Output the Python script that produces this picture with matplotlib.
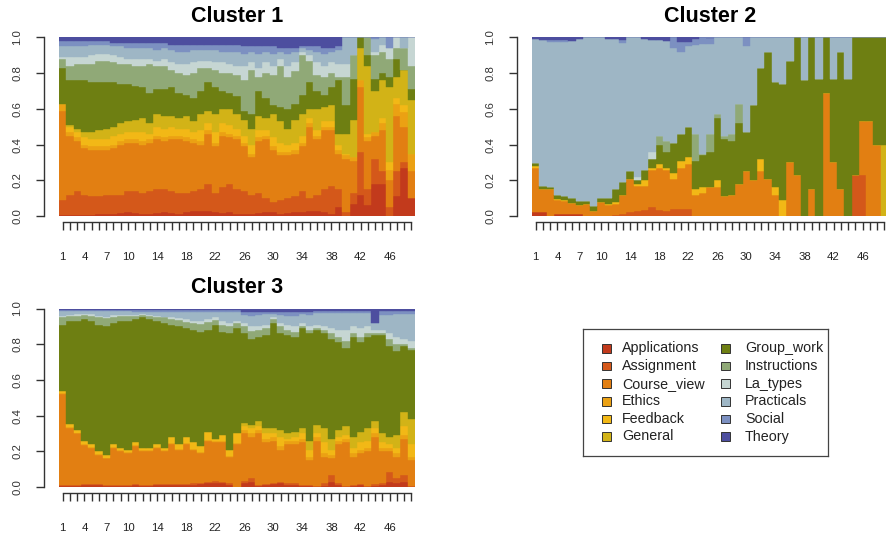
import numpy as np
import matplotlib
matplotlib.use("Agg")
import matplotlib.pyplot as plt
from matplotlib.patches import Rectangle

plt.rcParams['font.family'] = 'Liberation Sans'

states = ['Applications', 'Assignment', 'Course_view', 'Ethics', 'Feedback', 'General',
          'Group_work', 'Instructions', 'La_types', 'Practicals', 'Social', 'Theory']
colors = ['#C23A1C', '#D4581A', '#E27F12', '#EBA113', '#F2B816', '#D2B317',
          '#6E7F12', '#90A977', '#C6D6D3', '#9EB6C5', '#7C90C1', '#4D4E9F']

positions = np.arange(1, 50)
tick_labels = [1, 4, 7, 10, 14, 18, 22, 26, 30, 34, 38, 42, 46]

# each list is the upper edge of that state's band (cumulative share);
# Theory always runs up to 1.0
c1_applications = [0.005, 0.005, 0.005, 0.005, 0.005, 0.01, 0.01, 0.01, 0.015, 0.02,
                   0.015, 0.01, 0.01, 0.015, 0.02, 0.015, 0.01, 0.025, 0.03, 0.03,
                   0.03, 0.02, 0.015, 0.02, 0.01, 0.01, 0.01, 0.015, 0.02, 0.025,
                   0.01, 0.015, 0.02, 0.025, 0.03, 0.03, 0.02, 0.01, 0.05,
                   0.0, 0.07, 0.12, 0.06, 0.18, 0.18, 0.0, 0.11, 0.27, 0.10]
c1_assignment = [0.09, 0.12, 0.14, 0.12, 0.11, 0.11, 0.12, 0.12, 0.12, 0.14,
                 0.14, 0.13, 0.14, 0.15, 0.15, 0.14, 0.13, 0.13, 0.14, 0.15,
                 0.18, 0.13, 0.16, 0.18, 0.15, 0.14, 0.12, 0.13, 0.10, 0.08,
                 0.09, 0.10, 0.11, 0.14, 0.10, 0.12, 0.15, 0.17, 0.15,
                 0.02, 0.13, 0.36, 0.15, 0.32, 0.25, 0.05, 0.25, 0.30, 0.10]
c1_course_view = [0.59, 0.45, 0.42, 0.38, 0.37, 0.37, 0.37, 0.38, 0.40, 0.41,
                  0.41, 0.40, 0.41, 0.43, 0.42, 0.43, 0.43, 0.42, 0.41, 0.40,
                  0.46, 0.39, 0.45, 0.44, 0.43, 0.39, 0.33, 0.42, 0.43, 0.37,
                  0.34, 0.34, 0.35, 0.39, 0.50, 0.43, 0.48, 0.48, 0.35,
                  0.32, 0.31, 0.72, 0.42, 0.45, 0.48, 0.20, 0.56, 0.50, 0.25]
c1_ethics = [0.63, 0.47, 0.44, 0.40, 0.39, 0.39, 0.39, 0.40, 0.42, 0.43,
             0.43, 0.42, 0.43, 0.45, 0.44, 0.45, 0.45, 0.44, 0.43, 0.42,
             0.48, 0.41, 0.47, 0.46, 0.45, 0.41, 0.35, 0.44, 0.45, 0.39,
             0.36, 0.36, 0.37, 0.41, 0.52, 0.45, 0.50, 0.50, 0.37,
             0.34, 0.33, 0.76, 0.44, 0.47, 0.52, 0.26, 0.63, 0.58, 0.35]
c1_feedback = [0.63, 0.50, 0.47, 0.44, 0.43, 0.43, 0.43, 0.45, 0.46, 0.47,
               0.47, 0.47, 0.46, 0.50, 0.49, 0.50, 0.49, 0.49, 0.47, 0.48,
               0.52, 0.47, 0.52, 0.51, 0.49, 0.45, 0.40, 0.48, 0.48, 0.44,
               0.41, 0.40, 0.41, 0.45, 0.55, 0.48, 0.53, 0.53, 0.40,
               0.35, 0.33, 0.76, 0.46, 0.47, 0.55, 0.30, 0.66, 0.62, 0.35]
c1_general = [0.63, 0.51, 0.49, 0.47, 0.47, 0.48, 0.49, 0.50, 0.52, 0.53,
              0.54, 0.55, 0.52, 0.57, 0.56, 0.56, 0.55, 0.56, 0.53, 0.57,
              0.59, 0.57, 0.60, 0.60, 0.57, 0.54, 0.49, 0.56, 0.55, 0.57,
              0.53, 0.49, 0.54, 0.57, 0.60, 0.60, 0.61, 0.62, 0.46,
              0.46, 0.54, 0.94, 0.84, 0.70, 0.76, 0.72, 0.78, 0.82, 0.65]
c1_group_work = [0.83, 0.76, 0.76, 0.76, 0.75, 0.75, 0.75, 0.75, 0.74, 0.74,
                 0.73, 0.72, 0.69, 0.71, 0.71, 0.72, 0.69, 0.68, 0.66, 0.70,
                 0.75, 0.72, 0.70, 0.69, 0.67, 0.59, 0.57, 0.70, 0.66, 0.62,
                 0.61, 0.60, 0.63, 0.68, 0.75, 0.70, 0.68, 0.72, 0.76,
                 0.62, 0.77, 1.00, 0.90, 0.77, 0.80, 0.78, 0.88, 0.82, 0.71]
c1_instructions = [0.88, 0.84, 0.85, 0.85, 0.85, 0.87, 0.87, 0.86, 0.85, 0.85,
                   0.84, 0.84, 0.85, 0.84, 0.84, 0.82, 0.80, 0.79, 0.80, 0.83,
                   0.83, 0.82, 0.80, 0.80, 0.79, 0.76, 0.82, 0.78, 0.80, 0.79,
                   0.84, 0.78, 0.81, 0.90, 0.87, 0.79, 0.78, 0.80, 0.78,
                   0.78, 0.90, 1.00, 1.00, 0.90, 0.92, 0.88, 0.94, 0.94, 0.84]
c1_la_types = [0.89, 0.89, 0.89, 0.89, 0.90, 0.91, 0.91, 0.90, 0.89, 0.88,
               0.88, 0.88, 0.88, 0.87, 0.88, 0.86, 0.85, 0.85, 0.86, 0.87,
               0.87, 0.86, 0.86, 0.85, 0.84, 0.84, 0.86, 0.83, 0.86, 0.84,
               0.88, 0.84, 0.86, 0.92, 0.90, 0.86, 0.84, 0.86, 0.85,
               0.85, 0.90, 1.00, 1.00, 0.92, 0.96, 0.94, 1.00, 0.94, 1.00]
c1_practicals = [0.95, 0.95, 0.95, 0.95, 0.96, 0.96, 0.96, 0.95, 0.95, 0.94,
                 0.94, 0.94, 0.94, 0.93, 0.94, 0.93, 0.92, 0.92, 0.93, 0.93,
                 0.93, 0.93, 0.92, 0.92, 0.92, 0.91, 0.92, 0.91, 0.92, 0.91,
                 0.92, 0.91, 0.92, 0.94, 0.93, 0.92, 0.91, 0.92, 0.93,
                 1.00, 1.00, 1.00, 1.00, 0.99, 1.00, 0.94, 1.00, 1.00, 1.00]
c1_social = [0.98, 0.98, 0.98, 0.98, 0.98, 0.98, 0.98, 0.97, 0.97, 0.97,
             0.97, 0.97, 0.97, 0.97, 0.97, 0.96, 0.96, 0.96, 0.96, 0.96,
             0.96, 0.96, 0.96, 0.96, 0.96, 0.95, 0.95, 0.95, 0.95, 0.95,
             0.94, 0.94, 0.94, 0.95, 0.95, 0.95, 0.94, 0.94, 0.95,
             1.00, 1.00, 1.00, 1.00, 1.00, 1.00, 1.00, 1.00, 1.00, 1.00]

c2_applications = [0.025, 0.025, 0.0, 0.01, 0.01, 0.01, 0.01, 0.0, 0.0, 0.0,
                   0.0, 0.0, 0.0, 0.0, 0.0, 0.0, 0.0, 0.0, 0.0, 0.0,
                   0.0, 0.0, 0.0, 0.0, 0.0, 0.0, 0.0, 0.0, 0.0, 0.0,
                   0.0, 0.0, 0.0, 0.0, 0.0, 0.0, 0.0, 0.0, 0.0, 0.0,
                   0.0, 0.0, 0.0, 0.0, 0.0, 0.0, 0.0, 0.0, 0.0]
c2_assignment = [0.025, 0.025, 0.0, 0.01, 0.01, 0.01, 0.01, 0.0, 0.0, 0.0,
                 0.0, 0.005, 0.01, 0.02, 0.03, 0.035, 0.05, 0.035, 0.03, 0.04,
                 0.04, 0.04, 0.0, 0.0, 0.0, 0.0, 0.0, 0.0, 0.0, 0.0,
                 0.0, 0.0, 0.0, 0.0, 0.0, 0.0, 0.0, 0.0, 0.0, 0.0,
                 0.0, 0.0, 0.0, 0.0, 0.23, 0.23, 0.0, 0.0, 0.0]
c2_course_view = [0.27, 0.15, 0.15, 0.09, 0.085, 0.075, 0.06, 0.065, 0.03, 0.08,
                  0.06, 0.07, 0.12, 0.21, 0.17, 0.17, 0.26, 0.27, 0.26, 0.21,
                  0.27, 0.29, 0.12, 0.13, 0.16, 0.16, 0.11, 0.12, 0.18, 0.25,
                  0.20, 0.25, 0.21, 0.12, 0.0, 0.30, 0.23, 0.0, 0.15, 0.0,
                  0.69, 0.30, 0.15, 0.0, 0.23, 0.53, 0.53, 0.40, 0.0]
c2_ethics = [0.27, 0.15, 0.15, 0.09, 0.085, 0.075, 0.06, 0.065, 0.03, 0.08,
             0.06, 0.07, 0.12, 0.21, 0.17, 0.17, 0.26, 0.27, 0.26, 0.21,
             0.27, 0.29, 0.12, 0.13, 0.16, 0.16, 0.11, 0.12, 0.18, 0.25,
             0.20, 0.25, 0.21, 0.12, 0.0, 0.30, 0.23, 0.0, 0.15, 0.0,
             0.69, 0.30, 0.15, 0.0, 0.23, 0.53, 0.53, 0.40, 0.0]
c2_feedback = [0.28, 0.15, 0.15, 0.095, 0.09, 0.075, 0.06, 0.065, 0.03, 0.08,
               0.07, 0.08, 0.12, 0.21, 0.18, 0.20, 0.27, 0.29, 0.27, 0.24,
               0.31, 0.33, 0.15, 0.16, 0.16, 0.20, 0.11, 0.12, 0.18, 0.25,
               0.20, 0.32, 0.21, 0.16, 0.09, 0.30, 0.23, 0.0, 0.15, 0.0,
               0.69, 0.30, 0.15, 0.0, 0.23, 0.53, 0.53, 0.40, 0.0]
c2_general = [0.28, 0.15, 0.15, 0.095, 0.09, 0.075, 0.06, 0.065, 0.03, 0.08,
              0.07, 0.08, 0.12, 0.21, 0.18, 0.20, 0.27, 0.29, 0.27, 0.24,
              0.31, 0.33, 0.15, 0.16, 0.16, 0.20, 0.11, 0.12, 0.18, 0.25,
              0.20, 0.32, 0.21, 0.16, 0.09, 0.30, 0.23, 0.0, 0.15, 0.0,
              0.69, 0.30, 0.15, 0.0, 0.23, 0.53, 0.53, 0.40, 0.40]
c2_group_work = [0.295, 0.17, 0.165, 0.12, 0.11, 0.10, 0.085, 0.085, 0.055, 0.10,
                 0.10, 0.15, 0.19, 0.25, 0.20, 0.26, 0.32, 0.40, 0.36, 0.41,
                 0.46, 0.50, 0.31, 0.34, 0.36, 0.55, 0.43, 0.42, 0.52, 0.47,
                 0.62, 0.83, 0.92, 0.75, 0.74, 0.87, 1.0, 0.76, 1.0, 0.77,
                 1.0, 0.77, 0.92, 0.77, 1.0, 1.0, 1.0, 1.0, 1.0]
c2_instructions = [0.295, 0.17, 0.165, 0.12, 0.11, 0.10, 0.085, 0.085, 0.055, 0.10,
                   0.10, 0.15, 0.19, 0.25, 0.20, 0.26, 0.32, 0.45, 0.42, 0.41,
                   0.46, 0.50, 0.46, 0.35, 0.46, 0.57, 0.45, 0.46, 0.63, 0.47,
                   0.62, 0.83, 0.92, 0.75, 0.74, 0.87, 1.0, 0.76, 1.0, 0.77,
                   1.0, 0.77, 0.92, 0.77, 1.0, 1.0, 1.0, 1.0, 1.0]
c2_la_types = [0.295, 0.17, 0.165, 0.12, 0.11, 0.10, 0.085, 0.085, 0.055, 0.10,
               0.10, 0.15, 0.19, 0.25, 0.22, 0.26, 0.36, 0.45, 0.42, 0.41,
               0.46, 0.50, 0.46, 0.35, 0.46, 0.57, 0.45, 0.46, 0.63, 0.47,
               0.62, 0.83, 0.92, 0.75, 0.74, 0.87, 1.0, 0.76, 1.0, 0.77,
               1.0, 0.77, 0.92, 0.77, 1.0, 1.0, 1.0, 1.0, 1.0]
c2_practicals = [0.99, 0.985, 0.975, 0.975, 0.975, 0.98, 0.99, 1.0, 1.0, 1.0,
                 0.99, 0.99, 0.97, 1.0, 1.0, 0.99, 0.985, 0.985, 0.98, 0.94,
                 0.92, 0.95, 0.96, 0.965, 0.965, 1.0, 1.0, 1.0, 1.0, 0.95,
                 1.0, 1.0, 1.0, 1.0, 1.0, 1.0, 1.0, 1.0, 1.0, 1.0,
                 1.0, 1.0, 1.0, 1.0, 1.0, 1.0, 1.0, 1.0, 1.0]
c2_social = [0.99, 0.985, 0.985, 0.985, 0.985, 0.98, 0.99, 1.0, 1.0, 1.0,
             0.99, 0.99, 0.985, 1.0, 1.0, 0.99, 0.985, 0.985, 0.98, 1.0,
             0.975, 0.975, 0.99, 1.0, 1.0, 1.0, 1.0, 1.0, 1.0, 1.0,
             1.0, 1.0, 1.0, 1.0, 1.0, 1.0, 1.0, 1.0, 1.0, 1.0,
             1.0, 1.0, 1.0, 1.0, 1.0, 1.0, 1.0, 1.0, 1.0]

c3_applications = [0.005, 0.005, 0.005, 0.01, 0.01, 0.01, 0.005, 0.005, 0.005, 0.005,
                   0.01, 0.005, 0.005, 0.01, 0.01, 0.01, 0.01, 0.01, 0.01, 0.015,
                   0.02, 0.025, 0.02, 0.01, 0.0, 0.02, 0.03, 0.005, 0.01, 0.015,
                   0.02, 0.01, 0.01, 0.005, 0.005, 0.0, 0.005, 0.03, 0.01, 0.0,
                   0.005, 0.01, 0.0, 0.005, 0.01, 0.03, 0.02, 0.03, 0.0]
c3_assignment = [0.01, 0.01, 0.01, 0.015, 0.015, 0.015, 0.01, 0.01, 0.01, 0.01,
                 0.015, 0.01, 0.01, 0.015, 0.015, 0.015, 0.015, 0.015, 0.02, 0.025,
                 0.03, 0.035, 0.03, 0.02, 0.0, 0.035, 0.05, 0.01, 0.015, 0.025,
                 0.03, 0.02, 0.02, 0.01, 0.01, 0.005, 0.02, 0.07, 0.02, 0.005,
                 0.01, 0.015, 0.005, 0.015, 0.02, 0.085, 0.05, 0.065, 0.005]
c3_course_view = [0.52, 0.33, 0.30, 0.235, 0.22, 0.18, 0.16, 0.22, 0.20, 0.19,
                  0.23, 0.20, 0.20, 0.22, 0.20, 0.24, 0.21, 0.24, 0.21, 0.19,
                  0.26, 0.25, 0.25, 0.17, 0.24, 0.30, 0.28, 0.30, 0.25, 0.26,
                  0.21, 0.24, 0.24, 0.25, 0.15, 0.26, 0.17, 0.16, 0.24, 0.25,
                  0.17, 0.19, 0.20, 0.28, 0.20, 0.20, 0.17, 0.27, 0.15]
c3_ethics = [0.525, 0.335, 0.305, 0.24, 0.225, 0.185, 0.165, 0.225, 0.205, 0.195,
             0.235, 0.205, 0.205, 0.225, 0.205, 0.245, 0.215, 0.245, 0.215, 0.195,
             0.265, 0.255, 0.255, 0.175, 0.245, 0.32, 0.30, 0.32, 0.27, 0.28,
             0.23, 0.26, 0.26, 0.27, 0.17, 0.28, 0.19, 0.18, 0.26, 0.27,
             0.19, 0.21, 0.22, 0.30, 0.22, 0.22, 0.19, 0.29, 0.17]
c3_feedback = [0.54, 0.355, 0.32, 0.26, 0.24, 0.20, 0.18, 0.24, 0.22, 0.21,
               0.25, 0.22, 0.22, 0.24, 0.22, 0.28, 0.24, 0.28, 0.25, 0.23,
               0.31, 0.27, 0.29, 0.21, 0.30, 0.34, 0.33, 0.34, 0.30, 0.30,
               0.28, 0.27, 0.28, 0.30, 0.21, 0.30, 0.25, 0.21, 0.28, 0.29,
               0.22, 0.25, 0.26, 0.33, 0.25, 0.24, 0.22, 0.34, 0.24]
c3_general = [0.54, 0.355, 0.32, 0.26, 0.24, 0.20, 0.18, 0.24, 0.22, 0.21,
              0.25, 0.22, 0.22, 0.24, 0.22, 0.28, 0.24, 0.28, 0.25, 0.23,
              0.31, 0.27, 0.29, 0.21, 0.30, 0.36, 0.35, 0.37, 0.33, 0.33,
              0.32, 0.30, 0.31, 0.33, 0.26, 0.35, 0.33, 0.27, 0.32, 0.34,
              0.28, 0.31, 0.33, 0.37, 0.30, 0.28, 0.29, 0.42, 0.38]
c3_group_work = [0.91, 0.93, 0.93, 0.94, 0.93, 0.91, 0.90, 0.92, 0.93, 0.93,
                 0.94, 0.95, 0.94, 0.93, 0.92, 0.91, 0.90, 0.89, 0.88, 0.87,
                 0.88, 0.91, 0.87, 0.86, 0.89, 0.86, 0.83, 0.84, 0.85, 0.92,
                 0.86, 0.85, 0.84, 0.89, 0.86, 0.88, 0.86, 0.83, 0.81, 0.78,
                 0.84, 0.81, 0.84, 0.85, 0.85, 0.79, 0.76, 0.79, 0.77]
c3_instructions = [0.95, 0.96, 0.96, 0.965, 0.96, 0.95, 0.945, 0.955, 0.96, 0.96,
                   0.96, 0.965, 0.96, 0.955, 0.95, 0.94, 0.935, 0.925, 0.92, 0.915,
                   0.925, 0.935, 0.91, 0.90, 0.92, 0.90, 0.875, 0.88, 0.89, 0.94,
                   0.90, 0.88, 0.87, 0.90, 0.88, 0.89, 0.88, 0.86, 0.84, 0.82,
                   0.86, 0.84, 0.86, 0.86, 0.86, 0.83, 0.80, 0.80, 0.78]
c3_la_types = [0.96, 0.965, 0.97, 0.97, 0.97, 0.96, 0.955, 0.965, 0.965, 0.965,
               0.965, 0.97, 0.965, 0.96, 0.955, 0.95, 0.945, 0.94, 0.93, 0.93,
               0.94, 0.95, 0.93, 0.92, 0.93, 0.92, 0.90, 0.90, 0.91, 0.95,
               0.92, 0.91, 0.90, 0.92, 0.90, 0.91, 0.90, 0.89, 0.88, 0.88,
               0.90, 0.89, 0.90, 0.88, 0.88, 0.86, 0.84, 0.83, 0.82]
c3_practicals = [0.985, 0.985, 0.985, 0.985, 0.985, 0.985, 0.985, 0.985, 0.985, 0.985,
                 0.98, 0.98, 0.98, 0.98, 0.98, 0.98, 0.98, 0.98, 0.98, 0.98,
                 0.98, 0.98, 0.98, 0.98, 0.98, 0.965, 0.96, 0.965, 0.97, 0.97,
                 0.965, 0.96, 0.96, 0.97, 0.965, 0.975, 0.975, 0.975, 0.975, 0.975,
                 0.975, 0.975, 0.975, 0.92, 0.965, 0.965, 0.97, 0.97, 0.97]
c3_social = [0.99, 0.99, 0.99, 0.99, 0.99, 0.99, 0.99, 0.99, 0.99, 0.99,
             0.99, 0.99, 0.99, 0.99, 0.99, 0.99, 0.99, 0.99, 0.99, 0.99,
             0.99, 0.99, 0.99, 0.99, 0.99, 0.98, 0.98, 0.98, 0.98, 0.98,
             0.98, 0.98, 0.98, 0.98, 0.98, 0.985, 0.985, 0.985, 0.985, 0.985,
             0.985, 0.985, 0.985, 0.92, 0.985, 0.985, 0.985, 0.985, 0.985]

clusters = {
    'Cluster 1': [c1_applications, c1_assignment, c1_course_view, c1_ethics, c1_feedback,
                  c1_general, c1_group_work, c1_instructions, c1_la_types, c1_practicals,
                  c1_social],
    'Cluster 2': [c2_applications, c2_assignment, c2_course_view, c2_ethics, c2_feedback,
                  c2_general, c2_group_work, c2_instructions, c2_la_types, c2_practicals,
                  c2_social],
    'Cluster 3': [c3_applications, c3_assignment, c3_course_view, c3_ethics, c3_feedback,
                  c3_general, c3_group_work, c3_instructions, c3_la_types, c3_practicals,
                  c3_social],
}

W, H = 887, 538
fig = plt.figure(figsize=(W / 100, H / 100), dpi=100)


def px_axes(x0, y_top, x1, y_bottom):
    return fig.add_axes([x0 / W, 1 - y_bottom / H, (x1 - x0) / W, (y_bottom - y_top) / H])


axes = {
    'Cluster 1': px_axes(59, 37.5, 415, 216),
    'Cluster 2': px_axes(532, 37.5, 888, 216),
    'Cluster 3': px_axes(59, 308.5, 415, 487),
}

axis_col = '#333333'
for name, tops in clusters.items():
    ax = axes[name]
    edges = np.vstack([np.zeros(49), np.array(tops), np.ones(49)])
    shares = np.clip(np.diff(edges, axis=0), 0, None)
    bottom = np.zeros(49)
    for share, col in zip(shares, colors):
        ax.bar(positions, share, bottom=bottom, width=1.0, color=col,
               edgecolor=col, linewidth=0.3)
        bottom += share

    ax.set_xlim(0.5, 49.5)
    ax.set_ylim(0, 1)
    ax.set_title(name, fontsize=15.5, fontweight='bold', pad=11)

    for side in ['top', 'right']:
        ax.spines[side].set_visible(False)
    ax.spines['left'].set_position(('outward', 10.8))
    ax.spines['bottom'].set_position(('outward', 4.3))
    ax.spines['left'].set_bounds(0, 1)
    ax.spines['bottom'].set_bounds(1, 49)
    for side in ['left', 'bottom']:
        ax.spines[side].set_color(axis_col)
        ax.spines[side].set_linewidth(1.0)

    ax.set_xticks(positions)
    ax.set_xticklabels([str(p) if p in tick_labels else '' for p in positions])
    ax.set_yticks([0, 0.2, 0.4, 0.6, 0.8, 1.0])
    ax.set_yticklabels(['0.0', '0.2', '0.4', '0.6', '0.8', '1.0'])
    ax.tick_params(axis='x', length=5.8, width=1.0, color=axis_col, pad=15.5,
                   labelsize=8.2, labelcolor='#222222')
    ax.tick_params(axis='y', length=5.8, width=1.0, color=axis_col, pad=10,
                   labelsize=8.2, labelcolor='#333333', labelrotation=90)
    for lab in ax.get_yticklabels():
        lab.set_verticalalignment('center')

# legend box, laid out in pixel units
lax = px_axes(583, 329, 828, 456)
lax.set_xlim(0, 245)
lax.set_ylim(127, 0)
lax.set_xticks([])
lax.set_yticks([])
for sp in lax.spines.values():
    sp.set_color('#444444')
    sp.set_linewidth(0.9)

row_y = [19.5, 37.1, 54.7, 72.3, 89.9, 107.5]
for i, (state, col) in enumerate(zip(states, colors)):
    c, r = divmod(i, 6)
    px = 19 if c == 0 else 138
    tx = 39 if c == 0 else 162
    lax.add_patch(Rectangle((px, row_y[r] - 4.2), 9, 8.4, facecolor=col,
                            edgecolor='#333333', linewidth=0.7))
    lax.text(tx, row_y[r], state, fontsize=10.3, va='center', ha='left',
             color='#222222')

fig.savefig('out.png', dpi=100)
